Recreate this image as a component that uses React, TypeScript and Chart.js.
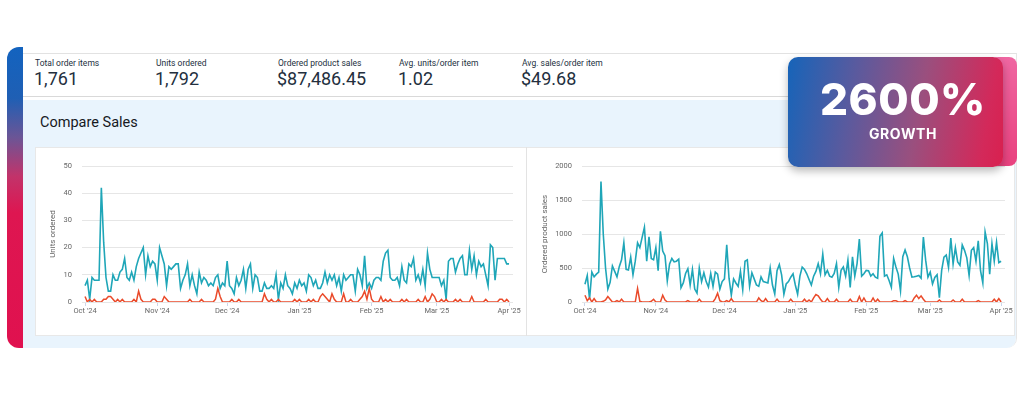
import React, { useEffect, useRef } from "react";
import { Chart, registerables } from "chart.js";
Chart.register(...registerables);

// ---- data ----
const tickDays = [0, 31, 61, 92, 123, 151, 182];
const tickLabels = ["Oct '24", "Nov '24", "Dec '24", "Jan '25", "Feb '25", "Mar '25", "Apr '25"];

const kpiLabels = ["Total order items", "Units ordered", "Ordered product sales", "Avg. units/order item", "Avg. sales/order item"];
const kpiValues = ["1,761", "1,792", "$87,486.45", "1.02", "$49.68"];

const unitsCurrent = [
  6, 8, 1, 9, 8, 8, 8, 42, 22, 9,
  4, 4, 10, 8, 8, 11, 12, 16, 9, 8,
  11, 8, 13, 16, 18, 20, 10, 17, 13, 15,
  14, 8, 20, 17, 14, 6, 13, 12, 13, 14,
  14, 5, 8, 10, 14, 6, 10, 6, 3, 11,
  7, 9, 8, 6, 7, 6, 9, 10, 5, 7,
  6, 15, 6, 5, 3, 9, 6, 8, 12, 5,
  12, 14, 5, 10, 9, 4, 4, 7, 5, 5,
  6, 5, 10, 1, 7, 5, 10, 6, 5, 3,
  7, 5, 8, 6, 7, 4, 10, 9, 6, 8,
  5, 5, 7, 11, 7, 10, 8, 10, 6, 9,
  4, 10, 8, 9, 10, 10, 4, 12, 10, 6,
  17, 5, 7, 5, 8, 9, 9, 8, 15, 18,
  19, 9, 8, 8, 9, 6, 13, 8, 7, 14,
  13, 16, 8, 10, 7, 12, 6, 18, 12, 9,
  9, 9, 9, 6, 8, 1, 15, 16, 16, 11,
  14, 16, 17, 10, 10, 19, 12, 17, 10, 15,
  13, 14, 10, 6, 21, 20, 8, 16, 16, 16,
  16, 14, 14,
];

const unitsPrevious = [
  2, 0, 1, 0, 1, 0, 0, 0, 1, 1,
  2, 2, 1, 0, 1, 0, 1, 0, 0, 0,
  0, 1, 0, 4, 1, 0, 0, 0, 0, 1,
  1, 0, 0, 0, 2, 1, 0, 0, 0, 0,
  0, 0, 0, 0, 0, 1, 0, 0, 0, 0,
  1, 0, 0, 0, 0, 0, 1, 5, 2, 0,
  0, 0, 0, 1, 0, 0, 1, 0, 0, 0,
  0, 0, 0, 0, 0, 0, 0, 3, 1, 0,
  1, 0, 0, 1, 0, 0, 0, 0, 0, 0,
  1, 0, 1, 0, 0, 0, 1, 0, 1, 0,
  0, 2, 3, 2, 1, 0, 3, 1, 0, 0,
  0, 3, 0, 0, 1, 0, 0, 0, 1, 2,
  4, 1, 5, 1, 0, 0, 0, 2, 0, 1,
  0, 1, 0, 0, 0, 0, 1, 0, 1, 0,
  0, 0, 0, 1, 0, 0, 2, 0, 1, 3,
  2, 0, 0, 1, 0, 1, 0, 0, 0, 1,
  0, 1, 0, 0, 0, 0, 2, 0, 0, 0,
  0, 0, 1, 0, 0, 0, 0, 0, 1, 1,
  0, 1, 0,
];

const salesCurrent = [
  260, 390, 40, 440, 370, 410, 440, 1770, 1000, 500,
  190, 290, 530, 450, 370, 520, 620, 870, 480, 470,
  660, 400, 600, 870, 800, 950, 1100, 600, 960, 640,
  620, 800, 460, 1040, 750, 680, 310, 560, 640, 590,
  600, 630, 210, 280, 420, 490, 250, 480, 190, 130,
  500, 300, 430, 300, 220, 420, 230, 440, 410, 190,
  300, 340, 840, 350, 100, 340, 280, 230, 450, 180,
  600, 620, 230, 430, 340, 250, 230, 370, 300, 290,
  280, 500, 250, 120, 460, 550, 400, 115, 265, 300,
  365, 415, 250, 115, 380, 515, 480, 415, 330, 250,
  380, 450, 565, 415, 705, 400, 465, 380, 365, 420,
  565, 215, 465, 515, 380, 615, 215, 665, 380, 565,
  925, 380, 415, 465, 460, 380, 415, 365, 350, 965,
  1015, 380, 400, 315, 215, 640, 515, 410, 165, 665,
  765, 665, 500, 365, 370, 380, 390, 350, 955, 615,
  365, 440, 265, 360, 400, 65, 465, 660, 690, 510,
  940, 560, 800, 590, 540, 840, 760, 650, 390, 760,
  800, 600, 900, 460, 280, 1030, 860, 410, 860, 600,
  880, 580, 600,
];

const salesPrevious = [
  100, 20, 60, 0, 50, 0, 0, 0, 10, 30,
  80, 40, 0, 0, 20, 0, 40, 0, 0, 0,
  0, 0, 0, 200, 10, 0, 0, 0, 0, 10,
  40, 0, 0, 0, 100, 30, 0, 0, 0, 0,
  0, 0, 0, 0, 0, 20, 0, 0, 0, 0,
  40, 0, 0, 0, 0, 0, 0, 50, 130, 20,
  0, 0, 20, 0, 50, 0, 0, 0, 0, 0,
  0, 0, 0, 0, 0, 0, 60, 20, 0, 50,
  0, 0, 0, 0, 40, 0, 0, 0, 0, 0,
  40, 0, 0, 0, 0, 0, 40, 0, 30, 0,
  60, 110, 90, 40, 0, 0, 50, 0, 0, 0,
  40, 0, 0, 0, 0, 0, 40, 0, 0, 0,
  80, 0, 60, 0, 0, 0, 60, 0, 40, 0,
  0, 0, 0, 0, 0, 20, 20, 0, 0, 0,
  20, 0, 0, 0, 60, 100, 50, 90, 40, 0,
  0, 0, 0, 0, 0, 30, 0, 0, 0, 0,
  0, 30, 0, 0, 0, 40, 0, 0, 0, 0,
  0, 0, 20, 0, 0, 0, 0, 0, 0, 40,
  0, 50, 0,
];

const TEAL = "#1fa6b8";
const RED = "#ea4a2a";
const FONT = "Roboto, 'Noto Sans', sans-serif";

function toPoints(values: number[]) {
  return values.map((v, i) => ({ x: i, y: v }));
}

type LCProps = {
  current: number[];
  previous: number[];
  yMax: number;
  yStep: number;
  yTitle: string;
  axisWidth: number;
  left: number;
  top: number;
  width: number;
  height: number;
};

function LineChart(p: LCProps) {
  const ref = useRef<HTMLCanvasElement>(null);
  useEffect(() => {
    const chart = new Chart(ref.current as HTMLCanvasElement, {
      type: "line",
      data: {
        datasets: [
          { label: "Previous", data: toPoints(p.previous), borderColor: RED, borderWidth: 1.5, pointRadius: 0, tension: 0, fill: false },
          { label: "Current", data: toPoints(p.current), borderColor: TEAL, borderWidth: 1.6, pointRadius: 0, tension: 0, fill: false },
        ],
      },
      options: {
        responsive: false,
        animation: false,
        layout: { padding: { top: 19, right: 12, bottom: 0, left: 0 } },
        plugins: { legend: { display: false }, tooltip: { enabled: false } },
        scales: {
          x: {
            type: "linear",
            min: -1.3,
            max: 183.7,
            afterBuildTicks: (s: any) => {
              s.ticks = tickDays.map((v) => ({ value: v }));
            },
            afterFit: (s: any) => {
              s.height = 34;
              s.paddingLeft = 0;
              s.paddingRight = 0;
            },
            ticks: {
              autoSkip: false,
              maxRotation: 0,
              padding: 1,
              color: "#666",
              font: { size: 7.5, family: FONT },
              callback: (v: any) => {
                const i = tickDays.indexOf(Number(v));
                return i >= 0 ? tickLabels[i] : "";
              },
            },
            grid: { drawOnChartArea: false, drawTicks: true, tickLength: 4, color: "#ccd6eb" },
            border: { display: false },
          },
          y: {
            min: 0,
            max: p.yMax,
            afterFit: (s: any) => {
              s.width = p.axisWidth;
              s.paddingTop = 0;
              s.paddingBottom = 0;
            },
            ticks: {
              stepSize: p.yStep,
              padding: 10,
              color: "#666",
              font: { size: 7.5, family: FONT },
              callback: (v: any) => String(v),
            },
            grid: { drawTicks: false, color: "#e6e6e6" },
            border: { display: false },
            title: {
              display: true,
              text: p.yTitle,
              color: "#666",
              font: { size: 8, family: FONT },
              padding: { top: 13, bottom: 0 },
            },
          },
        },
      } as any,
    });
    return () => chart.destroy();
  }, []);
  return (
    <canvas
      ref={ref}
      width={p.width}
      height={p.height}
      style={{ position: "absolute", left: p.left, top: p.top, width: p.width, height: p.height }}
    />
  );
}

const kpiX = [35, 156, 278, 399, 522];

export default function App() {
  return (
    <div style={{ position: "absolute", left: 0, top: 0, width: 1024, height: 397, background: "#fff", overflow: "hidden", fontFamily: FONT }}>
      {/* left gradient strip */}
      <div
        style={{
          position: "absolute", left: 7, top: 47, width: 16, height: 301, borderRadius: "12px 0 0 12px",
          background: "linear-gradient(180deg, #1363bf 0%, #1f5fb4 17%, #6b5596 30%, #c2336a 43%, #de1651 55%, #e0114f 100%)",
        }}
      />
      {/* card */}
      <div
        style={{
          position: "absolute", left: 23, top: 53, width: 994, height: 295, background: "#fff",
          borderTop: "1px solid #e2e2e2", borderRight: "1px solid #e6e6e6", borderBottomRightRadius: 10, overflow: "hidden", boxSizing: "border-box",
        }}
      >
        <div style={{ position: "absolute", left: 0, top: 42, width: "100%", height: 1, background: "#d9d9d9" }} />
        <div style={{ position: "absolute", left: 0, top: 46, width: "100%", bottom: 0, background: "#e9f4fd" }} />
      </div>
      {/* KPIs */}
      {kpiLabels.map((l, i) => (
        <div key={l} style={{ position: "absolute", left: kpiX[i], top: 57, fontSize: 8.5, lineHeight: "12px", color: "#232f3e", whiteSpace: "nowrap" }}>
          {l}
        </div>
      ))}
      {kpiValues.map((v, i) => (
        <div key={i} style={{ position: "absolute", left: kpiX[i] - 1, top: 67, fontSize: 18, lineHeight: "24px", color: "#232f3e", whiteSpace: "nowrap" }}>
          {v}
        </div>
      ))}
      {/* section title */}
      <div style={{ position: "absolute", left: 40, top: 113, fontSize: 14.5, lineHeight: "20px", color: "#16191f", whiteSpace: "nowrap" }}>
        Compare Sales
      </div>
      {/* chart panels */}
      <div style={{ position: "absolute", left: 35, top: 147, width: 980, height: 189, background: "#fff", border: "1px solid #e8e8e8", boxSizing: "border-box" }} />
      <div style={{ position: "absolute", left: 526, top: 147, width: 1, height: 189, background: "#e3e3e3" }} />
      <LineChart current={unitsCurrent} previous={unitsPrevious} yMax={50} yStep={10} yTitle="Units ordered" axisWidth={47} left={35} top={147} width={490} height={189} />
      <LineChart current={salesCurrent} previous={salesPrevious} yMax={2000} yStep={500} yTitle="Ordered product sales" axisWidth={55} left={527} top={147} width={490} height={189} />
      {/* badge */}
      <div style={{ position: "absolute", left: 990, top: 57, width: 27, height: 109, borderRadius: 8, background: "linear-gradient(180deg, #ef67a2 0%, #e9427f 100%)" }} />
      <div
        style={{
          position: "absolute", left: 788, top: 57, width: 215, height: 110, borderRadius: 10,
          background: "linear-gradient(100deg, #1664b9 0%, #5a5a9e 30%, #9a4f7e 60%, #d3295a 90%, #d9204f 100%)",
          boxShadow: "0 4px 8px rgba(0,0,0,0.28)",
        }}
      />
      <div style={{ position: "absolute", left: 788, top: 77, width: 230, textAlign: "center", color: "#fff", fontFamily: "Inter, 'Open Sans', sans-serif", fontWeight: 800, fontSize: 44, lineHeight: "44px", letterSpacing: 0.5, whiteSpace: "nowrap" }}>
        2600%
      </div>
      <div style={{ position: "absolute", left: 788, top: 125, width: 230, textAlign: "center", color: "#fff", fontFamily: "Inter, 'Open Sans', sans-serif", fontWeight: 700, fontSize: 14, lineHeight: "18px", letterSpacing: 0.6, whiteSpace: "nowrap" }}>
        GROWTH
      </div>
    </div>
  );
}
